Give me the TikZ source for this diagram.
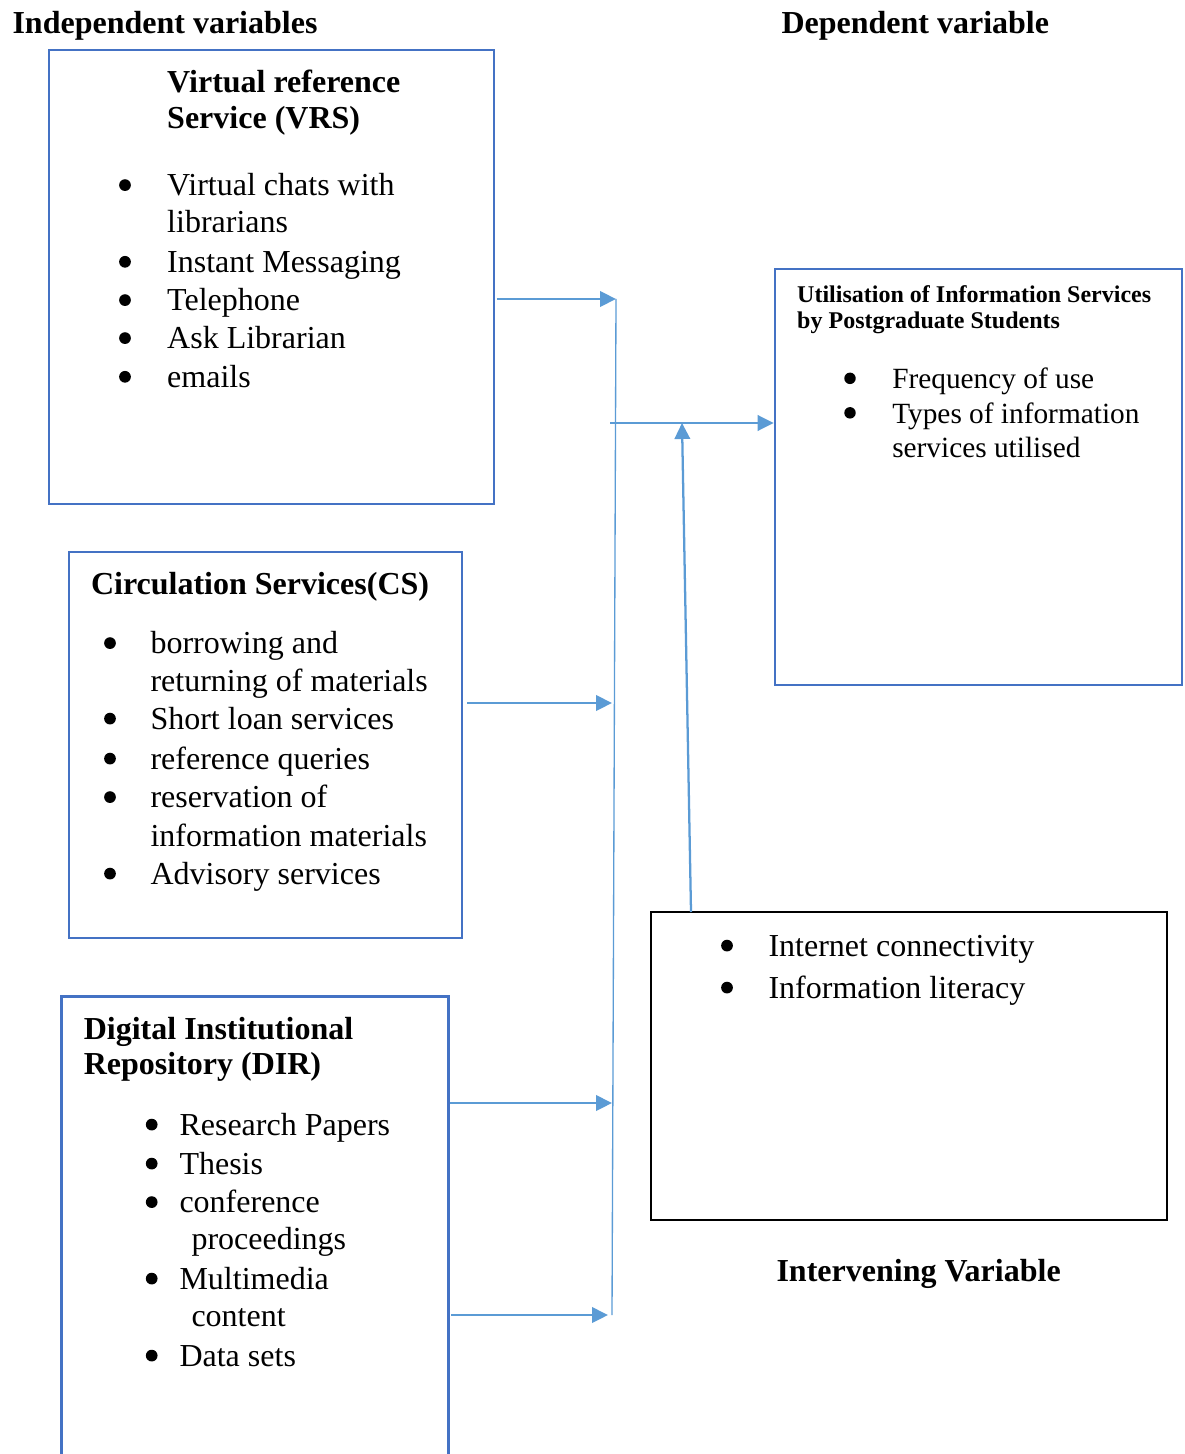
\documentclass[tikz,border=0pt]{standalone}
\usepackage{fontspec}
\setmainfont{Liberation Serif}
\usetikzlibrary{arrows.meta,fit}
\definecolor{boxblue}{HTML}{4472C4}
\definecolor{arrblue}{HTML}{5B9BD5}
\begin{document}
\begin{tikzpicture}[x=0.375pt,y=-0.375pt,
  box/.style={draw=boxblue, line width=1pt, inner sep=0pt},
  conn/.style={draw=arrblue, line width=0.85pt, -{Triangle[length=6pt,width=5.8pt]}},
  thinline/.style={draw=arrblue, line width=0.5pt},
  t/.style={anchor=base west, inner sep=0pt, font=\fontsize{12}{14}\selectfont},
  tm/.style={anchor=base west, inner sep=0pt, font=\fontsize{11}{13}\selectfont},
  tb/.style={anchor=base west, inner sep=0pt, font=\fontsize{12}{14}\selectfont\bfseries},
  ts/.style={anchor=base west, inner sep=0pt, font=\fontsize{9}{10.5}\selectfont\bfseries},
  bul/.style={circle, fill=black, inner sep=0pt, minimum size=4.4pt, yshift=3.9pt},
  bulm/.style={circle, fill=black, inner sep=0pt, minimum size=4.3pt, yshift=4pt}]
\useasboundingbox (0,0) rectangle (1185,1454);

% ---------- boxes ----------
\node[box, fit={(49,50) (494,504)}] (vrs) {};
\node[box, fit={(69,552) (462,938)}] (cs) {};
\node[inner sep=0pt, fit={(62,997) (448,1454)}] (dir) {};
\draw[boxblue, line width=1pt] (dir.south west) -- (dir.north west) -- (dir.north east) -- (dir.south east);
\node[box, fit={(775,269) (1182,685)}] (dep) {};
\node[draw=black, line width=1pt, inner sep=0pt, fit={(651,912) (1167,1220)}] (int) {};

% ---------- titles ----------
\node[tb] (lind) at (12,34) {Independent variables};
\node[tb] (ldep) at (781,34) {Dependent variable};
\node[tb] (lint) at (776,1281) {Intervening Variable};

% ---------- VRS ----------
\node[tb] (vh1) at (166.7,92.5) {Virtual reference};
\node[tb] (vh2) at (166.7,129) {Service (VRS)};
\node[bul] (vb1) at (125,195.5) {};
\node[bul] (vb2) at (125,272.2) {};
\node[bul] (vb3) at (125,310.5) {};
\node[bul] (vb4) at (125,348.5) {};
\node[bul] (vb5) at (125,387.2) {};
\node[t] (vt1) at (166.7,195.5) {Virtual chats with};
\node[t] (vt1b) at (166.7,232.2) {librarians};
\node[t] (vt2) at (166.7,272.2) {Instant Messaging};
\node[t] (vt3) at (166.7,310.5) {Telephone};
\node[t] (vt4) at (166.7,348.5) {Ask Librarian};
\node[t] (vt5) at (166.7,387.2) {emails};

% ---------- CS ----------
\node[tb] (ch1) at (90.5,594) {Circulation Services(CS)};
\node[bul] (cb1) at (110,653.5) {};
\node[bul] (cb2) at (110,729) {};
\node[bul] (cb3) at (110,769) {};
\node[bul] (cb4) at (110,807.5) {};
\node[bul] (cb5) at (110,884) {};
\node[t] (ct1) at (150,653.5) {borrowing and};
\node[t] (ct1b) at (150,691) {returning of materials};
\node[t] (ct2) at (150,729) {Short loan services};
\node[t] (ct3) at (150,769) {reference queries};
\node[t] (ct4) at (150,807.5) {reservation of};
\node[t] (ct4b) at (150,846) {information materials};
\node[t] (ct5) at (150,884) {Advisory services};

% ---------- DIR ----------
\node[tb] (dh1) at (83.3,1039) {Digital Institutional};
\node[tb] (dh2) at (83.3,1074) {Repository (DIR)};
\node[bul] (db1) at (151.7,1135) {};
\node[bul] (db2) at (151.7,1174) {};
\node[bul] (db3) at (151.7,1212.5) {};
\node[bul] (db4) at (151.7,1289) {};
\node[bul] (db5) at (151.7,1366) {};
\node[t] (dt1) at (179,1135) {Research Papers};
\node[t] (dt2) at (179,1174) {Thesis};
\node[t] (dt3) at (179,1212.5) {conference};
\node[t] (dt3b) at (191,1249) {proceedings};
\node[t] (dt4) at (179,1289) {Multimedia};
\node[t] (dt4b) at (191,1326) {content};
\node[t] (dt5) at (179,1366) {Data sets};

% ---------- dependent ----------
\node[ts] (uh1) at (796.7,302.5) {Utilisation of Information Services};
\node[ts] (uh2) at (796.7,329) {by Postgraduate Students};
\node[bulm] (ub1) at (850,389) {};
\node[bulm] (ub2) at (850,423.5) {};
\node[tm] (ut1) at (891.7,389) {Frequency of use};
\node[tm] (ut2) at (891.7,423.5) {Types of information};
\node[tm] (ut2b) at (891.7,457) {services utilised};

% ---------- intervening ----------
\node[bul] (ib1) at (727,956) {};
\node[bul] (ib2) at (727,998) {};
\node[t] (it1) at (768,956) {Internet connectivity};
\node[t] (it2) at (768,998) {Information literacy};

% ---------- connectors ----------
\coordinate (jtop) at (616,299);
\coordinate (jbot) at (612,1315);
\coordinate (jmid) at (610,423);
\coordinate (jcs) at (612,703);
\coordinate (jdir) at (612,1103);
\coordinate (jdir2) at (608,1315);
\coordinate (istart) at (691,912);
\coordinate (iend) at (682,423);

\draw[thinline] (jtop) -- (jbot);
\draw[conn] ([xshift=0.6pt]vrs.east |- jtop) -- (jtop);
\draw[conn] (jmid) -- (dep.west |- jmid);
\draw[conn] ([xshift=1.5pt]cs.east |- jcs) -- (jcs);
\draw[conn] ([xshift=0.4pt]dir.east |- jdir) -- (jdir);
\draw[conn] ([xshift=1pt]dir.east |- jdir2) -- (jdir2);
\draw[conn] (istart) -- (iend);
\end{tikzpicture}
\end{document}
